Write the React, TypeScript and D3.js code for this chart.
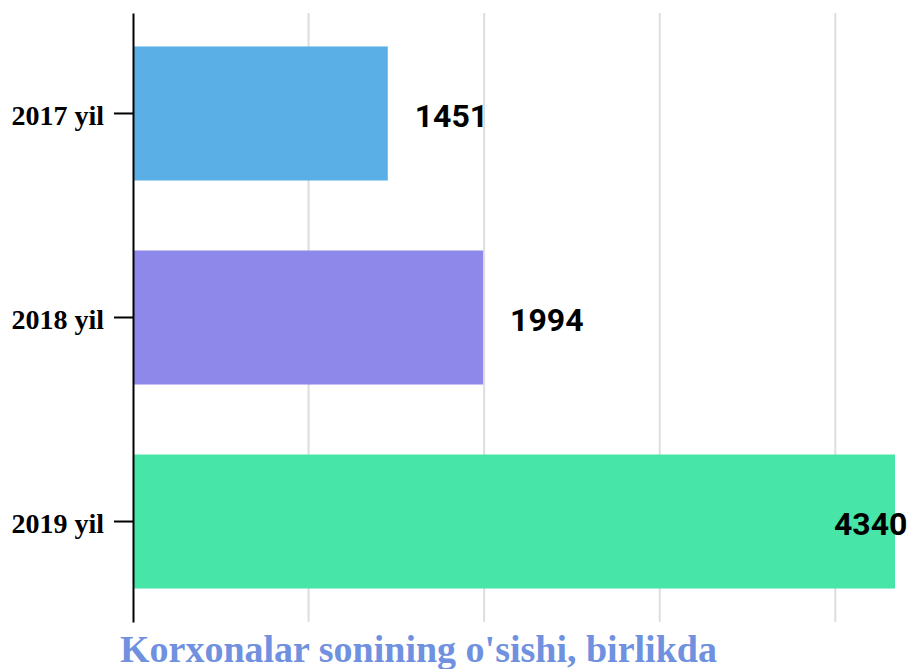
import React, { useEffect, useRef } from 'react'
import * as d3 from 'd3'

const categories = ['2017 yil', '2018 yil', '2019 yil']
const values = [1451, 1994, 4340]
const colors = ['#5aafe6', '#8d88ea', '#48e5a8']
const gridTicks = [1000, 2000, 3000, 4000]
const title = "Korxonalar sonining o'sishi, birlikda"

const W = 908
const H = 669

function drawChart(el: SVGSVGElement) {
  const svg = d3.select(el)
  svg.selectAll('*').remove()

  const left = 133
  const right = 895
  const top = 13
  const bottom = 622

  const x = d3.scaleLinear().domain([0, d3.max(values) as number]).range([left, right])
  const y = d3.scaleBand().domain(categories).range([top, bottom])
    .paddingInner(0.343).paddingOuter(0.164)

  // grid
  svg.append('g').selectAll('line')
    .data(gridTicks)
    .enter()
    .append('line')
    .attr('x1', d => x(d)).attr('x2', d => x(d))
    .attr('y1', top).attr('y2', bottom)
    .attr('stroke', '#dddddd')
    .attr('stroke-width', 2)

  // bars
  svg.append('g').selectAll('rect')
    .data(values)
    .enter()
    .append('rect')
    .attr('x', left)
    .attr('y', (d, i) => y(categories[i]) as number)
    .attr('width', d => x(d) - left)
    .attr('height', y.bandwidth())
    .attr('fill', (d, i) => colors[i])

  // value labels
  svg.append('g').selectAll('text')
    .data(values)
    .enter()
    .append('text')
    .attr('x', d => Math.min(x(d) + 27, W - 74))
    .attr('y', (d, i) => (y(categories[i]) as number) + y.bandwidth() / 2 + 2)
    .attr('dy', '0.35em')
    .attr('font-family', 'Roboto, sans-serif')
    .attr('font-weight', 'bold')
    .attr('font-size', 32)
    .attr('fill', '#000')
    .text(d => d)

  // y axis
  const axis = svg.append('g')
    .attr('transform', `translate(${left},0)`)
    .call(d3.axisLeft(y).tickSize(19).tickPadding(10).tickSizeOuter(0))
  axis.select('.domain').attr('stroke', '#000').attr('stroke-width', 2)
  axis.selectAll('.tick line').attr('stroke', '#000').attr('stroke-width', 2)
  axis.selectAll('.tick text')
    .attr('font-family', '"Liberation Serif", "Times New Roman", serif')
    .attr('font-weight', 'bold')
    .attr('font-size', 28)
    .attr('dy', '0.4em')
    .attr('fill', '#000')

  // title
  svg.append('text')
    .attr('x', 120)
    .attr('y', 662)
    .attr('font-family', '"Liberation Serif", "Times New Roman", serif')
    .attr('font-weight', 'bold')
    .attr('font-size', 38)
    .attr('fill', '#7090e0')
    .text(title)
}

const App = () => {
  const ref = useRef<SVGSVGElement>(null)
  useEffect(() => {
    if (ref.current) drawChart(ref.current)
  })
  return (
    <svg ref={ref} width={W} height={H}
      style={{ position: 'absolute', left: 0, top: 0, background: '#fff' }} />
  )
}

export default App
